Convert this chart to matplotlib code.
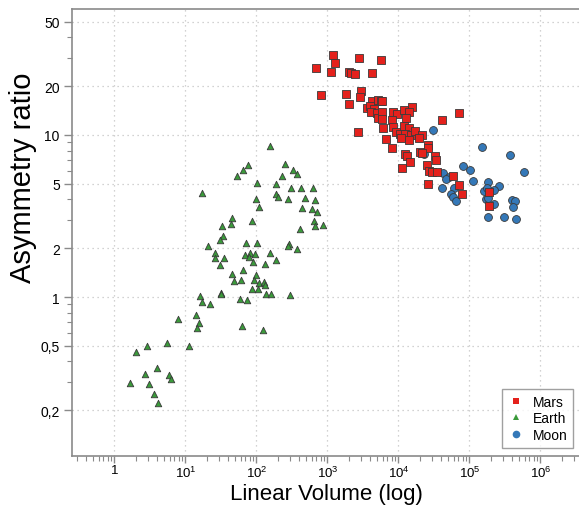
import math
import matplotlib
matplotlib.use("Agg")
import matplotlib.pyplot as plt
from matplotlib.ticker import LogLocator, FixedLocator, FuncFormatter, NullFormatter
from matplotlib.lines import Line2D

# ── Data ─────────────────────────────────────────────────────────────────────
mars_vol = [1183, 1276, 2779, 5611, 682, 1132, 2028, 2123, 2464, 4196,
            802, 1822, 1989, 2992, 2870, 4234, 5093, 5673, 3597, 4007,
            4518, 4100, 5027, 5143, 2715, 5914, 8448, 9616, 11950, 15350,
            14060, 5800, 5800, 8020, 12760, 6110, 8280, 11950, 14060, 9220,
            10500, 12350, 14860, 17070, 21230, 19450, 14190, 10740, 6670, 8180,
            26300, 25770, 12350, 13040, 20090, 21230, 32660, 33420, 14520, 24950,
            11320, 27160, 29370, 35200, 59100, 26300, 71800, 79200, 40600, 71100,
            188300, 188300]
mars_ratio = [31.3, 27.7, 30.0, 28.9, 25.8, 24.5, 24.4, 24.0, 23.8, 24.2,
              17.6, 17.8, 15.6, 18.6, 17.1, 16.2, 16.5, 16.3, 14.7, 15.2,
              14.5, 13.9, 13.7, 12.8, 10.4, 16.1, 13.9, 13.5, 14.2, 14.8,
              13.9, 13.8, 12.6, 12.4, 12.7, 11.0, 11.2, 11.4, 11.0, 10.4,
              10.1, 10.2, 10.0, 10.6, 10.0, 9.58, 9.35, 9.58, 9.44, 8.31,
              8.67, 8.28, 7.63, 7.39, 7.89, 7.74, 7.39, 7.04, 6.78, 6.56,
              6.26, 6.02, 5.94, 5.94, 5.56, 5.01, 4.91, 4.32, 12.3, 13.6,
              4.47, 3.63]

earth_vol = [155, 252, 76.7, 64, 52.6, 231, 330, 368, 101, 188,
             17.2, 303, 423, 631, 188, 203, 98, 275, 487, 660,
             109, 442, 599, 711, 45.6, 86.4, 33, 44.2, 652, 667,
             873, 410, 33.7, 30.3, 71.1, 101, 284, 275, 20.7, 376,
             26.3, 155, 68.2, 81.8, 95.2, 79.2, 25.8, 34.5, 188, 90.2,
             130, 30.9, 64.5, 45.6, 97.4, 61.1, 48.2, 92.2, 107, 129,
             132, 87.3, 104, 135, 160, 294, 31.6, 31.9, 58.6, 72.8,
             15.8, 17.1, 22.1, 13.9, 7.84, 15.6, 14.7, 63.1, 125, 5.54,
             2.84, 11.3, 1.99, 3.93, 2.69, 5.86, 6.19, 1.67, 3.09, 3.6, 4.06]
earth_ratio = [8.5, 6.6, 6.5, 6.1, 5.56, 5.58, 6.05, 5.74, 5.06, 4.99,
               4.39, 4.69, 4.69, 4.69, 4.30, 4.12, 4.01, 4.03, 4.10, 3.97,
               3.59, 3.56, 3.48, 3.33, 3.06, 2.93, 2.75, 2.81, 2.93, 2.73,
               2.78, 2.63, 2.38, 2.26, 2.16, 2.16, 2.12, 2.06, 2.07, 1.98,
               1.87, 1.87, 1.82, 1.87, 1.83, 1.76, 1.73, 1.74, 1.69, 1.65,
               1.61, 1.57, 1.47, 1.39, 1.37, 1.27, 1.25, 1.27, 1.22, 1.24,
               1.19, 1.12, 1.12, 1.04, 1.04, 1.03, 1.06, 1.04, 0.97, 0.958,
               1.01, 0.935, 0.905, 0.774, 0.732, 0.691, 0.646, 0.659, 0.626, 0.518,
               0.500, 0.500, 0.456, 0.366, 0.335, 0.329, 0.313, 0.293, 0.289, 0.251, 0.223]

moon_vol = [30620, 23070, 148500, 371700, 586000, 80950, 103300, 42760, 50930, 46210,
            112000, 182300, 263000, 224900, 160000, 174600, 41680, 60100, 54850, 59540,
            65160, 170700, 180300, 223300, 399000, 440600, 407400, 182300, 306100, 454600]
moon_ratio = [10.8, 7.63, 8.49, 7.53, 5.94, 6.47, 6.04, 5.80, 5.54, 5.35,
              5.20, 5.10, 4.84, 4.59, 4.54, 4.71, 4.73, 4.71, 4.32, 4.16,
              3.90, 4.01, 4.06, 3.77, 3.97, 3.93, 3.58, 3.13, 3.13, 3.02]

x_ticks = [1, 1e1, 1e2, 1e3, 1e4, 1e5, 1e6]
y_ticks = [0.2, 0.5, 1, 2, 5, 10, 20, 50]
y_ticklabels = ["0,2", "0,5", "1", "2", "5", "10", "20", "50"]

C_MARS = "#e4211c"
C_EARTH = "#3a9a3a"
C_MOON = "#3478b8"
C_AXIS = "#8a8a8a"

plt.rcParams.update({
    "font.family": ["Liberation Sans", "DejaVu Sans"],
    "mathtext.default": "regular",
})


def xfmt(v, pos):
    if abs(v - 1) < 1e-9:
        return "1"
    return r"$10^{%d}$" % round(math.log10(v))


fig = plt.figure(figsize=(5.79, 5.06), dpi=100)
ax = fig.add_axes([0.1235, 0.0968, 0.8765, 0.8834])

ax.set_xscale("log")
ax.set_yscale("log")
ax.set_xlim(0.248, 3.49e6)
ax.set_ylim(0.1044, 59.9)

ax.grid(True, which="major", linestyle=(0, (1, 3)), color="#c4c4c4", linewidth=0.9)
ax.set_axisbelow(True)

edge = "#3a3a3a"
ax.scatter(moon_vol, moon_ratio, marker="o", s=32, color=C_MOON,
           edgecolors=edge, linewidths=0.6, zorder=3)
ax.scatter(earth_vol, earth_ratio, marker="^", s=22, color=C_EARTH,
           edgecolors=edge, linewidths=0.6, zorder=3)
ax.scatter(mars_vol, mars_ratio, marker="s", s=32, color=C_MARS,
           edgecolors=edge, linewidths=0.6, zorder=4)

# ── Axes styling ─────────────────────────────────────────────────────────────
for side in ["left", "bottom", "top"]:
    ax.spines[side].set_color(C_AXIS)
    ax.spines[side].set_linewidth(1.2)
ax.spines["right"].set_visible(False)

ax.xaxis.set_major_locator(FixedLocator(x_ticks))
ax.xaxis.set_minor_locator(LogLocator(base=10, subs=range(2, 10), numticks=20))
ax.xaxis.set_major_formatter(FuncFormatter(xfmt))
ax.xaxis.set_minor_formatter(NullFormatter())

ax.set_yticks(y_ticks)
ax.set_yticklabels(y_ticklabels)
ax.yaxis.set_minor_locator(LogLocator(base=10, subs=range(2, 10), numticks=20))
ax.yaxis.set_minor_formatter(NullFormatter())

ax.tick_params(which="major", direction="out", length=5.5, width=1, color=C_AXIS,
               labelsize=10, pad=3, top=False, right=False)
ax.tick_params(axis="x", which="major", length=5, pad=1, labelsize=9.5)
ax.tick_params(which="minor", direction="out", length=3.5, width=0.8, color=C_AXIS,
               top=False, right=False)

ax.set_xlabel("Linear Volume (log)", fontsize=16, va="bottom")
ax.xaxis.set_label_coords(0.503, -0.1065)
ax.set_ylabel("Asymmetry ratio", fontsize=21)
ax.yaxis.set_label_coords(-0.068, 0.624)

handles = [
    Line2D([], [], marker="s", linestyle="none", color=C_MARS, markersize=5,
           markeredgewidth=0, label="Mars"),
    Line2D([], [], marker="^", linestyle="none", color=C_EARTH, markersize=4.5,
           markeredgewidth=0, label="Earth"),
    Line2D([], [], marker="o", linestyle="none", color=C_MOON, markersize=5.5,
           markeredgewidth=0, label="Moon"),
]
leg = ax.legend(handles=handles, loc="upper right", bbox_to_anchor=(573 / 579, 1 - 390 / 506),
                bbox_transform=fig.transFigure, borderaxespad=0, fontsize=10,
                frameon=True, fancybox=False, handlelength=1.2, handletextpad=0.6,
                labelspacing=0.2, borderpad=0.4)
leg.get_frame().set_edgecolor("#888888")
leg.get_frame().set_linewidth(1.0)

fig.savefig("out.png", dpi=100)
